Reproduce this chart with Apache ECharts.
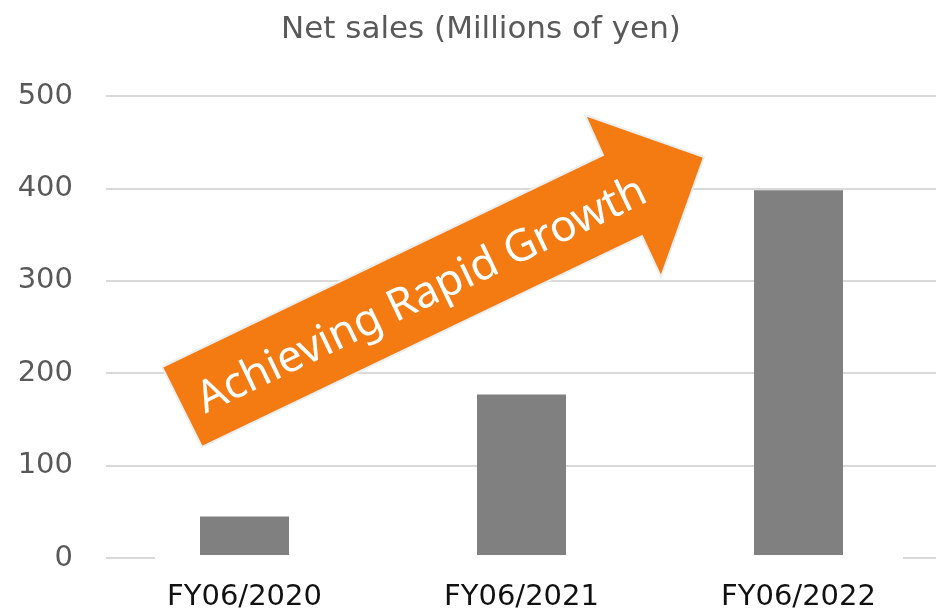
<!DOCTYPE html>
<html>
<head>
<meta charset="utf-8">
<script src="https://cdn.jsdelivr.net/npm/echarts@6/dist/echarts.min.js"></script>
<style>
  html, body { margin: 0; padding: 0; background: #fff; }
  #chart { width: 936px; height: 609px; }
</style>
</head>
<body>
<div id="chart"></div>
<script>
// data
const categories = ['FY06/2020', 'FY06/2021', 'FY06/2022'];
const netSales = [45, 177, 398];
const yTicks = [0, 100, 200, 300, 400, 500];
const titleText = 'Net sales (Millions of yen)';
const arrowText = 'Achieving Rapid Growth';

const chart = echarts.init(document.getElementById('chart'));

// arrow shape (decoration)
const arrowPoints = [
  [162, 367], [603, 155], [585, 115], [704, 157],
  [661, 277], [642, 236], [202, 447]
];

chart.setOption({
  animation: false,
  title: {
    text: titleText,
    left: 276,
    top: 9,
    textStyle: {
      fontFamily: 'DejaVu Sans',
      fontSize: 31,
      fontWeight: 'normal',
      color: '#595959'
    }
  },
  grid: {
    left: 106,
    top: 96,
    width: 831,
    height: 462,
    outerBoundsMode: 'none',
    containLabel: false
  },
  xAxis: {
    type: 'category',
    data: categories,
    axisLine: { show: false },
    axisTick: { show: false },
    axisLabel: {
      margin: 25,
      fontFamily: 'DejaVu Sans',
      fontSize: 29,
      color: '#111'
    }
  },
  yAxis: {
    type: 'value',
    min: yTicks[0],
    max: yTicks[yTicks.length - 1],
    interval: 100,
    axisLine: { show: false },
    axisTick: { show: false },
    axisLabel: {
      margin: 33,
      fontFamily: 'DejaVu Sans',
      fontSize: 29,
      color: '#595959'
    },
    splitLine: {
      lineStyle: { color: '#d9d9d9', width: 2 }
    }
  },
  series: [
    {
      type: 'bar',
      data: netSales,
      barWidth: 89,
      itemStyle: { color: '#808080' }
    }
  ],
  graphic: [
    {
      // hides the middle of the baseline like the original
      type: 'rect',
      z: 5,
      shape: { x: 155, y: 555, width: 748, height: 6 },
      style: { fill: '#fff' }
    },
    {
      type: 'polygon',
      z: 10,
      shape: { points: arrowPoints },
      style: { fill: '#F47A12', stroke: '#eeeeee', lineWidth: 2 }
    },
    {
      type: 'text',
      z: 11,
      x: 422,
      y: 296,
      rotation: 25.6 * Math.PI / 180,
      style: {
        text: arrowText,
        fill: '#fff',
        fontFamily: 'Noto Sans',
        fontSize: 44,
        align: 'center',
        verticalAlign: 'middle'
      }
    }
  ]
});
</script>
</body>
</html>
